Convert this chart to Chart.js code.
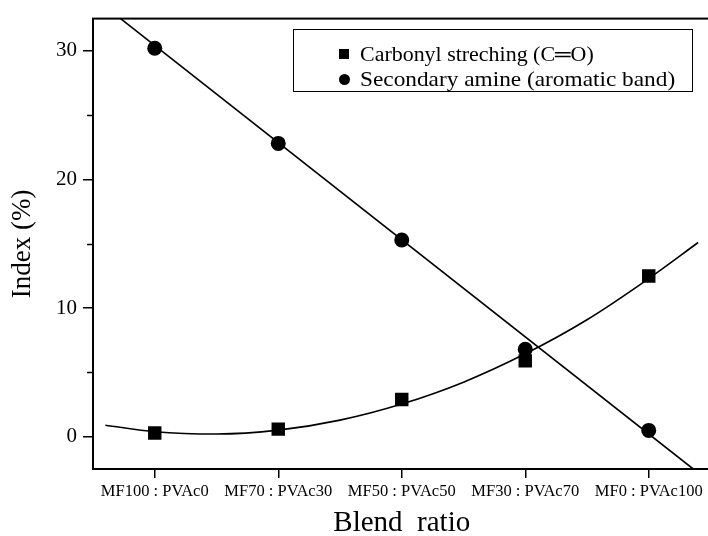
<!DOCTYPE html>
<html>
<head>
<meta charset="utf-8">
<title>Blend ratio index</title>
<script src="https://cdn.jsdelivr.net/npm/chart.js@4.4.1/dist/chart.umd.min.js"></script>
<style>
  html, body { margin: 0; padding: 0; background: #fff; overflow: hidden; }
  #wrap { position: relative; width: 720px; height: 536px; }
  #legend {
    position: absolute; left: 293px; top: 29px; width: 400px; height: 63px;
    border: 1.5px solid #000; box-sizing: border-box;
    font-family: "Liberation Serif", "Times New Roman", serif; font-size: 21px; color: #000;
  }
  #legend .row { position: absolute; left: 0; height: 24px; line-height: 24px; white-space: nowrap; }
  #legend .mark { position: absolute; background: #000; }
  #legend .txt { position: absolute; left: 66px; top: 0; transform-origin: left center; }
</style>
</head>
<body>
<div id="wrap">
  <canvas id="chart" width="720" height="536"></canvas>
  <div id="legend"></div>
</div>
<script>
(() => {
  "use strict";

  // ── Data ──────────────────────────────────────────────────────

  const ratioLabels   = ["MF100 : PVAc0", "MF70 : PVAc30", "MF50 : PVAc50", "MF30 : PVAc70", "MF0 : PVAc100"];
  const carbonylIndex = [0.3, 0.6, 2.9, 5.9, 12.5];
  const amineIndex    = [30.2, 22.8, 15.3, 6.8, 0.5];

  // fitted curves, as traced
  const carbonylFitX = [-0.4, 0, 0.5, 1, 1.5, 2, 2.5, 3, 3.5, 4, 4.4];
  const carbonylFitY = [0.9, 0.4, 0.22, 0.52, 1.3, 2.55, 4.25, 6.45, 9.1, 12.3, 15.1];
  const amineFitX = [-0.29, 4.36];
  const amineFitY = [32.6, -2.5];

  const yMajor = [0, 10, 20, 30];
  const yMinor = [5, 15, 25];

  const seriesNames = ["Carbonyl streching (C\u2550O)", "Secondary amine (aromatic band)"];

  const FONT = "'Liberation Serif', 'Times New Roman', serif";
  const pts = (xs, ys) => xs.map((x, i) => ({ x, y: ys[i] }));

  // frame round the plot area plus short minor ticks on the y axis
  const framePlugin = {
    id: "frame",
    afterDraw(chart) {
      const { ctx, chartArea: a, scales } = chart;
      ctx.save();
      ctx.strokeStyle = "#000";
      ctx.lineWidth = 2;
      ctx.strokeRect(a.left, a.top, a.right - a.left, a.bottom - a.top);
      ctx.lineWidth = 1.5;
      ctx.beginPath();
      for (const v of yMinor) {
        const y = Math.round(scales.y.getPixelForValue(v)) + 0.5;
        ctx.moveTo(a.left - 6, y);
        ctx.lineTo(a.left, y);
      }
      ctx.stroke();
      ctx.restore();
    },
  };

  new Chart(document.getElementById("chart"), {
    type: "scatter",
    data: {
      datasets: [
        {
          label: seriesNames[0],
          data: pts([0, 1, 2, 3, 4], carbonylIndex),
          pointStyle: "rect",
          pointRadius: 9.5,
          backgroundColor: "#000",
          borderColor: "#000",
          borderWidth: 0,
          showLine: false,
        },
        {
          label: seriesNames[1],
          data: pts([0, 1, 2, 3, 4], amineIndex),
          pointStyle: "circle",
          pointRadius: 7.5,
          backgroundColor: "#000",
          borderColor: "#000",
          borderWidth: 0,
          showLine: false,
        },
        {
          label: "carbonyl fit",
          data: pts(carbonylFitX, carbonylFitY),
          showLine: true,
          pointRadius: 0,
          borderColor: "#000",
          borderWidth: 1.6,
          tension: 0.4,
          cubicInterpolationMode: "monotone",
        },
        {
          label: "amine fit",
          data: pts(amineFitX, amineFitY),
          showLine: true,
          pointRadius: 0,
          borderColor: "#000",
          borderWidth: 1.6,
        },
      ],
    },
    options: {
      responsive: false,
      animation: false,
      layout: { padding: { top: 13, right: 9, left: 0, bottom: 0 } },
      plugins: { legend: { display: false }, tooltip: { enabled: false } },
      scales: {
        x: {
          type: "linear",
          min: -0.5,
          max: 4.5,
          afterBuildTicks: s => { s.ticks = ratioLabels.map((_, i) => ({ value: i })); },
          afterFit: s => { s.height = 67; },
          ticks: {
            callback: v => ratioLabels[v],
            color: "#000",
            font: { family: FONT, size: 16.5 },
            padding: 4,
            maxRotation: 0,
            autoSkip: false,
          },
          grid: { drawOnChartArea: false, tickLength: 9, color: "#000", lineWidth: 1.5 },
          border: { display: false },
          title: {
            display: true,
            text: "Blend  ratio",
            color: "#000",
            font: { family: FONT, size: 29 },
            padding: { top: 0, bottom: -5 },
          },
        },
        y: {
          type: "linear",
          min: -2.5,
          max: 32.5,
          afterBuildTicks: s => { s.ticks = yMajor.map(v => ({ value: v })); },
          afterFit: s => { s.width = 93; },
          ticks: {
            color: "#000",
            font: { family: FONT, size: 21 },
            padding: 6,
          },
          grid: { drawOnChartArea: false, tickLength: 10, color: "#000", lineWidth: 1.5 },
          border: { display: false },
          title: {
            display: true,
            text: "Index (%)",
            color: "#000",
            font: { family: FONT, size: 27 },
            padding: { top: 7, bottom: 0 },
          },
        },
      },
    },
    plugins: [framePlugin],
  });

  // ── Legend ────────────────────────────────────────────────────

  const legend = document.getElementById("legend");
  const marks = [
    { top: 12, w: 10, h: 10, radius: "0", stretch: 1.045 },
    { top: 37, w: 11, h: 11, radius: "50%", stretch: 1.11 },
  ];
  seriesNames.forEach((name, i) => {
    const row = document.createElement("div");
    row.className = "row";
    row.style.top = marks[i].top + "px";
    const m = document.createElement("span");
    m.className = "mark";
    m.style.left = (50 - marks[i].w / 2) + "px";
    m.style.top = (12 - marks[i].h / 2) + "px";
    m.style.width = marks[i].w + "px";
    m.style.height = marks[i].h + "px";
    m.style.borderRadius = marks[i].radius;
    const t = document.createElement("span");
    t.className = "txt";
    t.style.transform = "scaleX(" + marks[i].stretch + ")";
    t.textContent = name;
    row.appendChild(m);
    row.appendChild(t);
    legend.appendChild(row);
  });
})();
</script>
</body>
</html>
